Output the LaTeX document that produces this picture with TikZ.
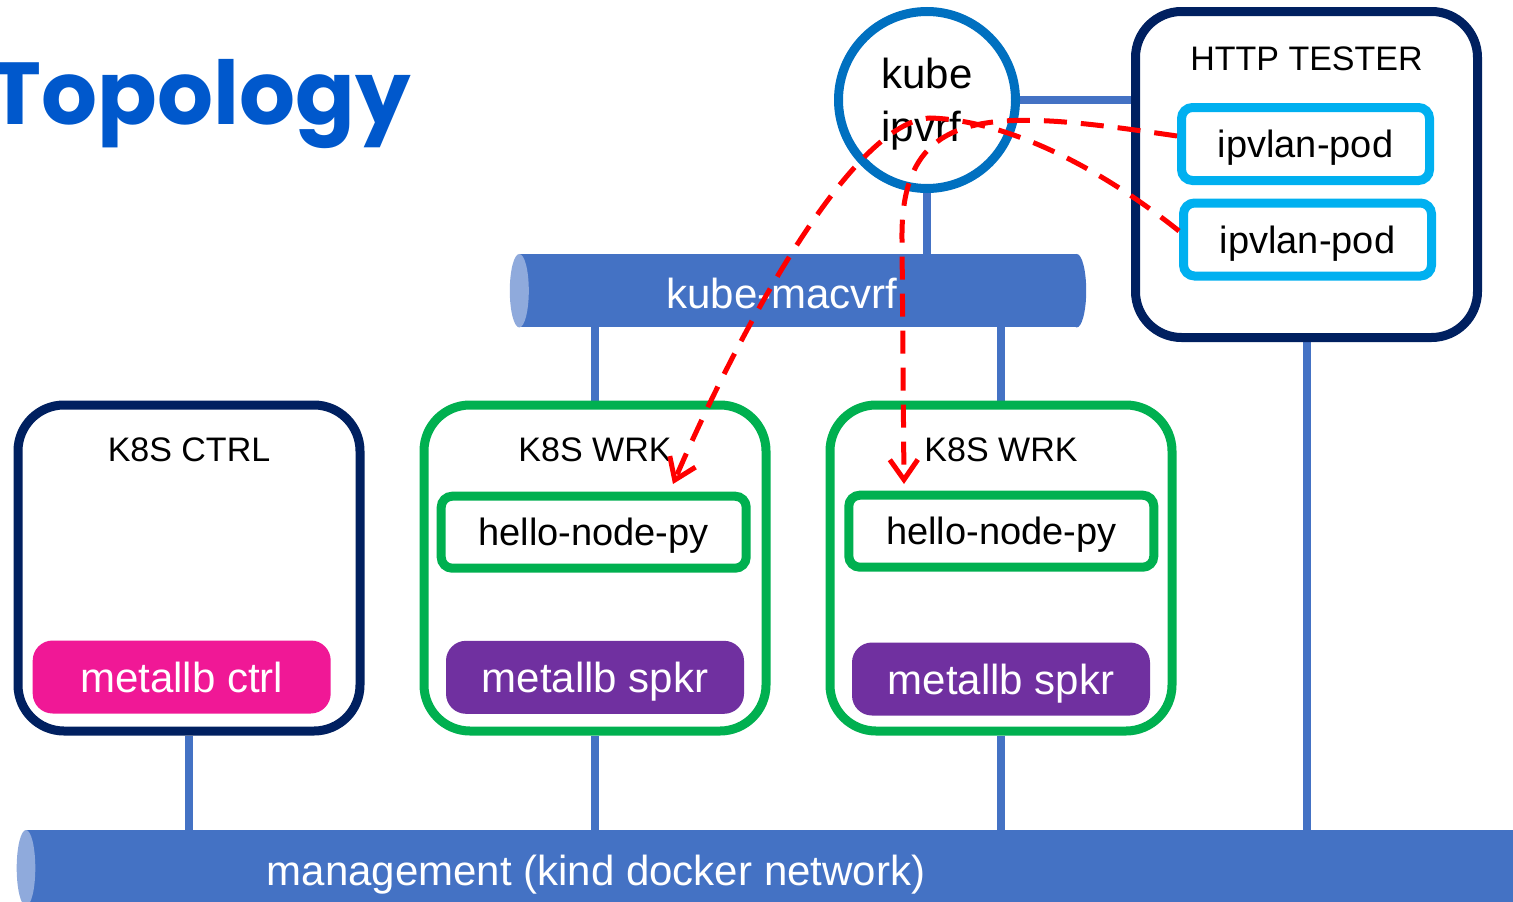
\documentclass[tikz,border=0pt]{standalone}
\usepackage{fontspec}
\setmainfont{Liberation Sans}
\newfontfamily\titlefont{Poppins}
\usetikzlibrary{positioning,arrows.meta,backgrounds}

\definecolor{navy}{RGB}{0,32,96}
\definecolor{wrkgreen}{RGB}{0,176,80}
\definecolor{podcyan}{RGB}{0,176,240}
\definecolor{vrfblue}{RGB}{0,112,192}
\definecolor{busblue}{RGB}{68,114,196}
\definecolor{busend}{RGB}{143,170,220}
\definecolor{ctrlpink}{RGB}{240,24,150}
\definecolor{spkpurple}{RGB}{112,48,160}
\definecolor{titleblue}{RGB}{0,88,204}

\newcommand{\bigtxt}{\fontsize{42}{53}\selectfont}
\newcommand{\podtxt}{\fontsize{38}{44}\selectfont}
\newcommand{\hdrtxt}{\fontsize{34}{40}\selectfont}

\begin{document}
\begin{tikzpicture}[x=1pt, y=-1pt,
    host/.style={draw=navy, line width=9pt, fill=white, rounded corners=46pt,
                 minimum width=342pt, minimum height=326pt, inner sep=0pt},
    worker/.style={host, draw=wrkgreen},
    hdr/.style={font=\hdrtxt, inner sep=0pt},
    app/.style={draw=wrkgreen, line width=9pt, fill=white, rounded corners=11pt,
                minimum width=305pt, minimum height=72pt, inner sep=0pt,
                text depth=0pt, font=\podtxt},
    ipvpod/.style={app, draw=podcyan, minimum width=248pt, minimum height=73pt},
    speaker/.style={fill=spkpurple, text=white, rounded corners=20pt, text depth=0pt,
                    minimum width=298pt, minimum height=73pt, inner sep=0pt, font=\bigtxt},
    ctrlr/.style={speaker, fill=ctrlpink},
    vrf/.style={circle, draw=vrfblue, line width=9pt, fill=white, minimum size=177pt,
                inner sep=0pt, align=left, text depth=0pt, font=\bigtxt},
    bus/.style={fill=busblue, inner sep=0pt},
    bustxt/.style={text=white, font=\bigtxt, inner sep=0pt, anchor=base},
    link/.style={draw=busblue, line width=8pt},
    flow/.style={draw=red, line width=5pt, dash pattern=on 23pt off 14pt,
                 -{Straight Barb[length=20pt, width=28pt]}},
  ]
  \useasboundingbox (0,0) rectangle (1513,902);
  \clip (0,0) rectangle (1513,902);

  \node[font=\titlefont\bfseries\fontsize{88}{100}\selectfont, text=titleblue,
        anchor=base east, inner sep=0pt] (title) at (411,124) {Topology};

  % vrfs
  \node[vrf] (ipvrf) at (927,100) {kube\\ipvrf};
  \node[bus, minimum width=557pt, minimum height=73.5pt] (macvrf) at (798,290.7) {};
  \fill[busblue] (macvrf.east) ellipse [x radius=9.5pt, y radius=36.75pt];
  \fill[busend] (macvrf.west) ellipse [x radius=9.5pt, y radius=36.75pt];
  \node[bustxt] (macvrflbl) at (782,308) {kube-macvrf};
  \node[bus, minimum width=1504pt, minimum height=76pt] (mgmt) at (778.2,868) {};
  \fill[busend] (mgmt.west) ellipse [x radius=9.3pt, y radius=38pt];
  \node[bustxt] (mgmtlbl) at (596,885) {management (kind docker network)};

  % tester
  \node[host] (tester) at (1306.5,174.5) {};
  \node[hdr, below=39.5pt of tester.north] (testerlbl) {HTTP TESTER};
  \node[ipvpod] (podA) at (1305.5,144) {ipvlan-pod};
  \node[ipvpod] (podB) at (1307.5,239.5) {ipvlan-pod};

  % cluster
  \node[host] (ctrl) at (189,568) {};
  \node[hdr, below=37.5pt of ctrl.north] (ctrllbl) {K8S CTRL};
  \node[ctrlr] (mlbctrl) at (181.7,677) {metallb ctrl};

  \node[worker] (wrkA) at (595,568) {};
  \node[hdr, below=37.5pt of wrkA.north] (wrkAlbl) {K8S WRK};
  \node[app] (helloA) at (593.7,532.2) {hello-node-py};
  \node[speaker] (spkA) at (595,677.3) {metallb spkr};

  \node[worker] (wrkB) at (1001,568) {};
  \node[hdr, below=37.5pt of wrkB.north] (wrkBlbl) {K8S WRK};
  \node[app] (helloB) at (1001.3,531.2) {hello-node-py};
  \node[speaker] (spkB) at (1001,679) {metallb spkr};

  % links
  \begin{scope}[on background layer]
    \draw[link] (ipvrf) -- (ipvrf -| tester);
    \draw[link] (ipvrf) -- (ipvrf |- macvrf);
    \draw[link] (wrkA) -- (wrkA |- macvrf);
    \draw[link] (wrkB) -- (wrkB |- macvrf);
    \draw[link] (ctrl) -- (ctrl |- mgmt);
    \draw[link] (wrkA) -- (wrkA |- mgmt);
    \draw[link] (wrkB) -- (wrkB |- mgmt);
    \draw[link] (tester) -- (tester |- mgmt);
  \end{scope}

  % traffic
  \coordinate (tipA) at (673,484);
  \coordinate (tipB) at (904,484);
  \draw[flow] ([yshift=8pt]podA.west) .. controls (1000,110) and (900,100) .. (902,240) -- (tipB);
  \draw[flow] ([yshift=8.5pt]podB.west) .. controls (1090,160) and (1000,120) .. (930,118)
    .. controls (850,122) and (735,340) .. (tipA);
\end{tikzpicture}
\end{document}
